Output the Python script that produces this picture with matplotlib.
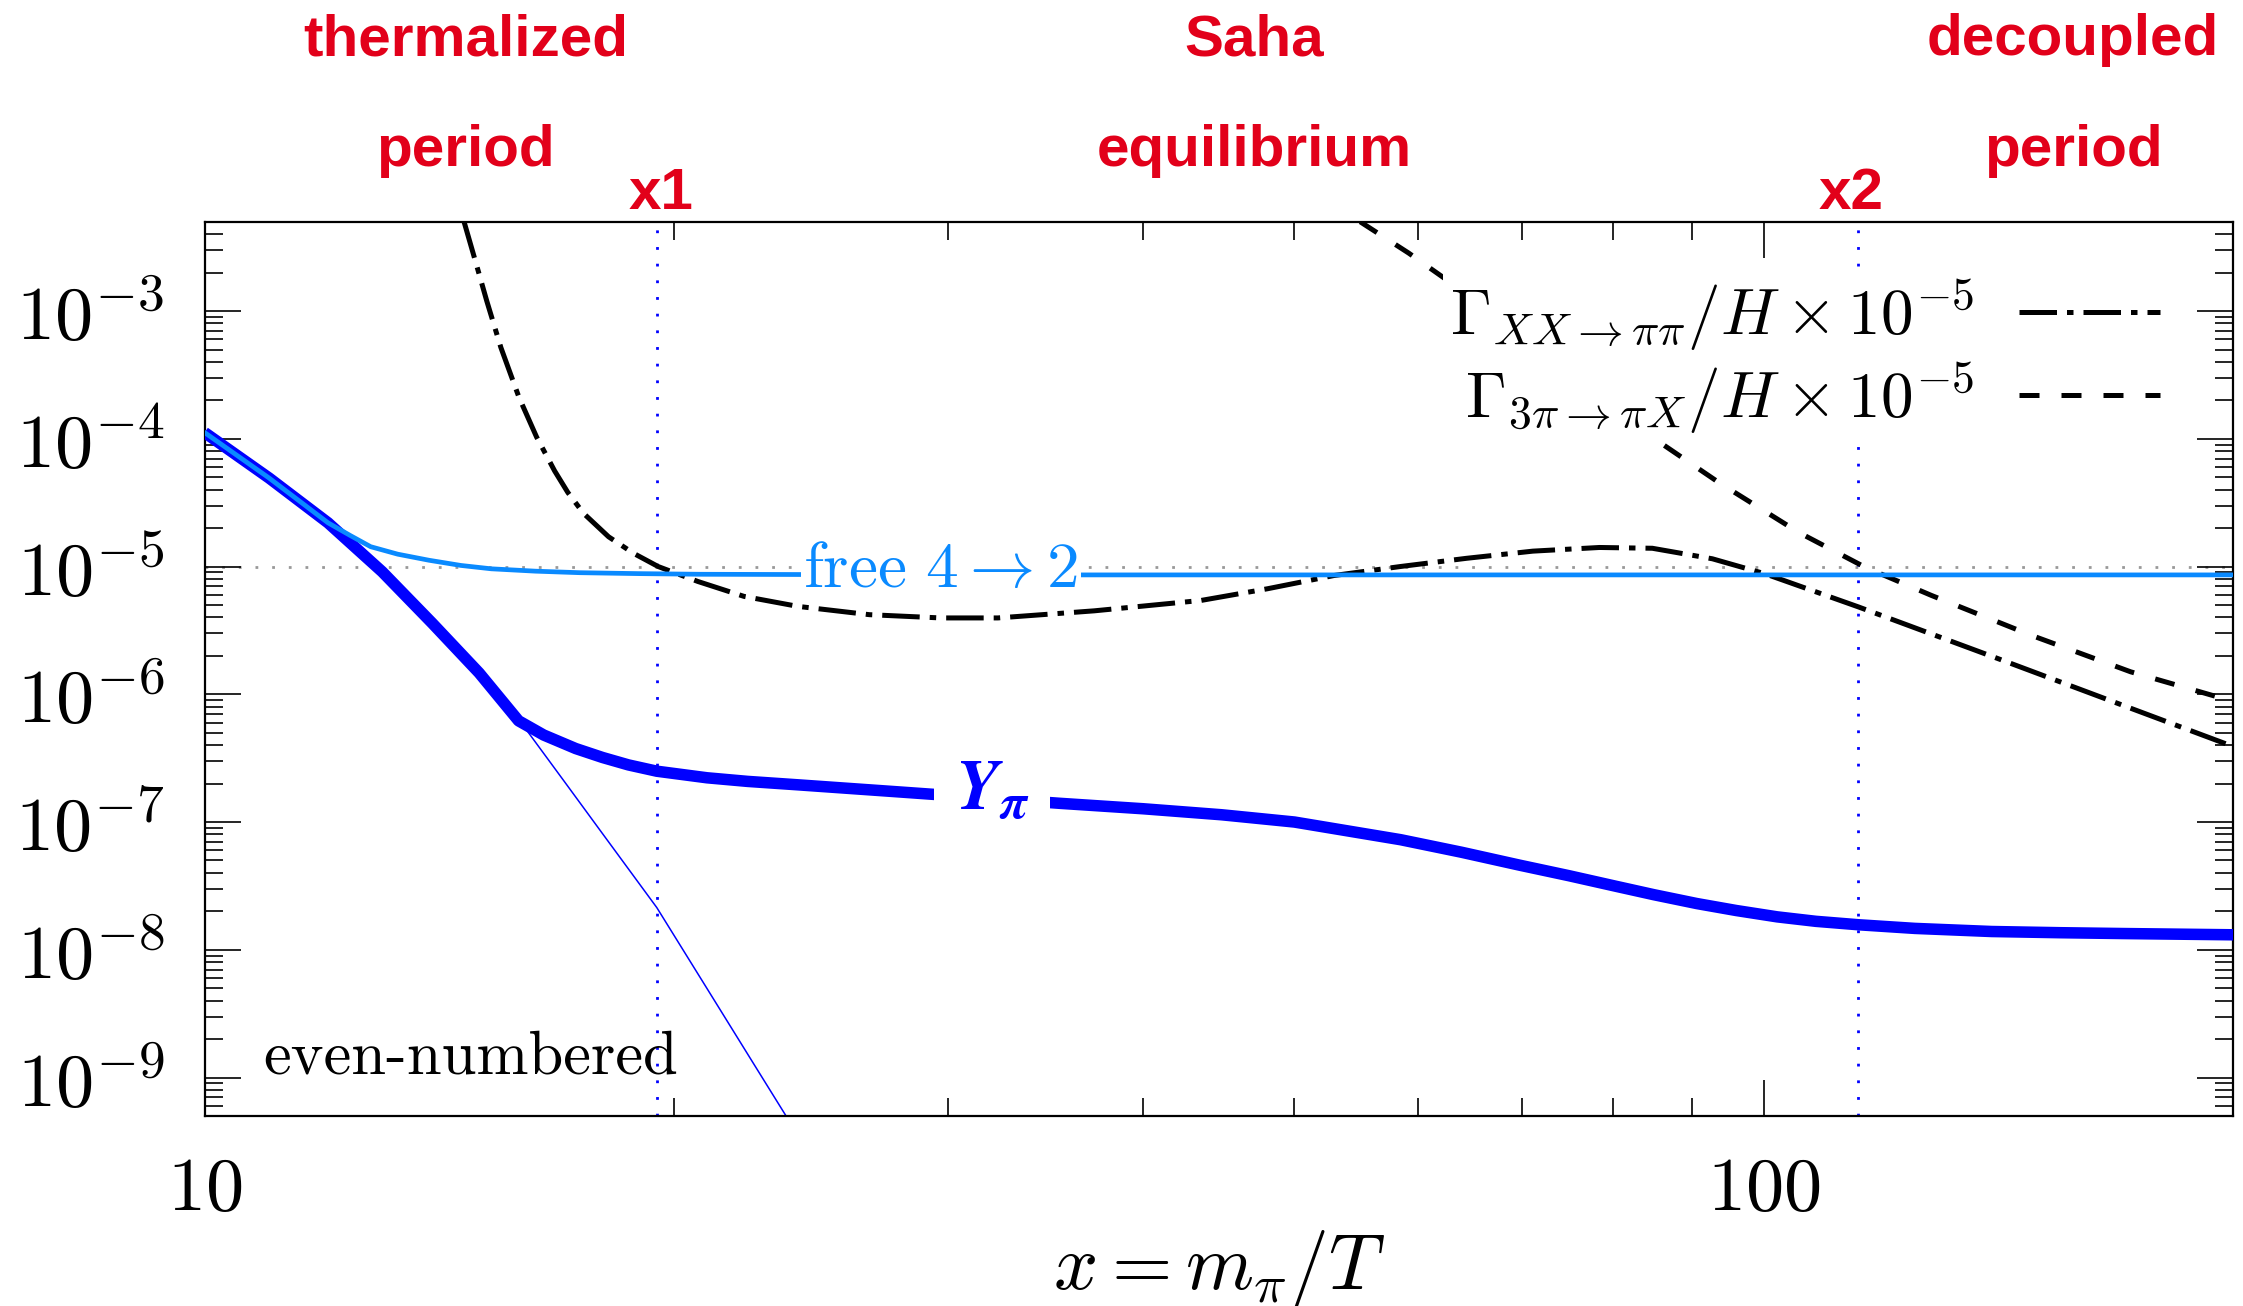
import numpy as np
import matplotlib.pyplot as plt
from matplotlib.ticker import FixedLocator, FuncFormatter, NullFormatter, LogLocator
import matplotlib.transforms as mtransforms

plt.rcParams['mathtext.fontset'] = 'cm'

# thin line: equilibrium abundance
x_eq = [10, 11, 12, 13, 14, 15, 16, 17, 18, 19.5, 21, 22.5, 24]
y_eq = [1.12e-4, 4.93e-5, 2.2e-5, 9.1e-6, 3.59e-6, 1.47e-6, 5.75e-7, 2.1e-7,
        8.1e-8, 2.14e-8, 4.98e-9, 1.28e-9, 3.6e-10]

# thick line: Y_pi
x_ypi = [10, 11, 12, 13, 14, 15, 15.9, 16.5, 17.3, 18, 18.7, 19.5, 21, 22.3,
         24.1, 27.9, 29.9, 35.4, 40, 44.9, 50, 58.5, 64, 69.7, 75, 80.4, 85,
         90.6, 96, 102, 108, 115, 125, 140, 155, 170, 200]
y_ypi = [1.12e-4, 4.93e-5, 2.2e-5, 9.1e-6, 3.59e-6, 1.47e-6, 6.2e-7, 4.8e-7,
         3.76e-7, 3.2e-7, 2.8e-7, 2.5e-7, 2.22e-7, 2.08e-7, 1.95e-7, 1.72e-7,
         1.62e-7, 1.4e-7, 1.27e-7, 1.14e-7, 1.0e-7, 7.27e-8, 5.8e-8, 4.6e-8,
         3.8e-8, 3.14e-8, 2.7e-8, 2.3e-8, 2.03e-8, 1.81e-8, 1.67e-8, 1.57e-8,
         1.47e-8, 1.39e-8, 1.36e-8, 1.34e-8, 1.31e-8]

# light blue: free 4 -> 2
x_free = [10, 11, 12, 12.4, 12.78, 13.3, 13.93, 14.6, 15.27, 16.3, 17.4, 19,
          20.8, 25, 30, 50, 100, 200]
y_free = [1.12e-4, 4.93e-5, 2.2e-5, 1.75e-5, 1.43e-5, 1.25e-5, 1.12e-5, 1.02e-5,
          9.6e-6, 9.2e-6, 8.95e-6, 8.8e-6, 8.7e-6, 8.65e-6, 8.6e-6, 8.6e-6,
          8.6e-6, 8.6e-6]

# Gamma_{XX -> pi pi}/H x 1e-5
x_gxx = [14.67, 14.94, 15.17, 15.49, 15.91, 16.33, 16.77, 17.1, 17.5, 18.16,
         18.84, 19.54, 20.72, 22.18, 24.01, 26.69, 29.66, 32.27, 37.2, 43.57,
         48.05, 53.02, 58.46, 64.47, 71.11, 78.45, 84.83, 92.69, 100.2, 115,
         141.2, 171.9, 200]
y_gxx = [5e-3, 2.31e-3, 1.2e-3, 5.18e-4, 2.11e-4, 1.03e-4, 5.6e-5, 3.8e-5,
         2.61e-5, 1.71e-5, 1.27e-5, 1.0e-5, 7.64e-6, 5.84e-6, 4.88e-6, 4.2e-6,
         3.96e-6, 3.96e-6, 4.5e-6, 5.43e-6, 6.7e-6, 8.51e-6, 1.0e-5, 1.16e-5,
         1.32e-5, 1.41e-5, 1.39e-5, 1.15e-5, 8.77e-6, 4.83e-6, 1.91e-6,
         7.78e-7, 3.9e-7]

# Gamma_{3pi -> pi X}/H x 1e-5
x_g3 = [55.1, 59.2, 72.4, 84.8, 93.6, 105.3, 116.1, 128.1, 148.4, 171.9, 200]
y_g3 = [5e-3, 2.84e-3, 5.03e-4, 1.03e-4, 4.54e-5, 1.85e-5, 9.9e-6, 5.94e-6,
        2.9e-6, 1.5e-6, 8.8e-7]

x1, x2 = 19.5, 115
red = '#E2001A'
lightblue = '#0A8AFF'

fig = plt.figure(figsize=(22.43, 13.06), dpi=100)
ax = fig.add_axes([0.0912, 0.1455, 0.9044, 0.6847])
ax.set_xscale('log')
ax.set_yscale('log')
ax.set_xlim(10, 200)
ax.set_ylim(5e-10, 5e-3)

ax.axhline(1e-5, color='#999999', lw=2, dashes=(1, 5), zorder=1)
ax.axvline(x1, color='#0000FF', lw=2, dashes=(1, 5), zorder=1)
ax.axvline(x2, color='#0000FF', lw=2, dashes=(1, 5), zorder=1)

ax.plot(x_eq, y_eq, color='#0000FF', lw=1.1, zorder=2)
ax.plot(x_ypi, y_ypi, color='#0000FF', lw=8.3, solid_capstyle='butt',
        solid_joinstyle='round', zorder=3)
ax.plot(x_free, y_free, color=lightblue, lw=3.4, solid_joinstyle='round', zorder=4)
ax.plot(x_gxx, y_gxx, color='black', lw=3.6, dashes=(7.5, 2, 1.3, 2), zorder=2,
        label=r'$\Gamma_{XX\rightarrow\pi\pi}/H\times10^{-5}$')
ax.plot(x_g3, y_g3, color='black', lw=3.6, dashes=(4, 4.4), zorder=2,
        label=r'$\Gamma_{3\pi\rightarrow\pi X}/H\times10^{-5}$')

leg = ax.legend(loc='upper right', bbox_to_anchor=(0.967, 0.946), fontsize=47,
                markerfirst=False, handlelength=2.15, handletextpad=0.7,
                labelspacing=0.1, borderpad=0.1, borderaxespad=0,
                frameon=True, fancybox=False)
leg.get_frame().set_facecolor('white')
leg.get_frame().set_edgecolor('none')
leg.get_frame().set_alpha(1)

ax.text(29.65, 9.6e-6, r'$\mathrm{free}\ 4\rightarrow2$', color=lightblue,
        fontsize=47, ha='center', va='center', zorder=5,
        bbox=dict(facecolor='white', edgecolor='none', pad=2))
ax.text(32, 1.78e-7, r'$\mathbfit{Y}_{\mathbfit{\pi}}$', color='#0000FF',
        fontsize=51, ha='center', va='center', zorder=5, math_fontfamily='stix',
        bbox=dict(facecolor='white', edgecolor='none', pad=15))
ax.text(10.9, 1.08e-9, 'even-numbered', family='cmr10', fontsize=45,
        ha='left', va='baseline')

ax.set_xlabel(r'$x = m_\pi/T$', fontsize=56)
ax.xaxis.set_label_coords(0.5, -0.125)

ax.xaxis.set_major_locator(FixedLocator([10, 100]))
ax.xaxis.set_major_formatter(FuncFormatter(lambda v, p: r'$%d$' % v))
ax.xaxis.set_minor_locator(FixedLocator([20, 30, 40, 50, 60, 70, 80, 90, 200]))
ax.xaxis.set_minor_formatter(NullFormatter())
ax.yaxis.set_major_locator(LogLocator(base=10, numticks=20))
ax.yaxis.set_major_formatter(FuncFormatter(lambda v, p: r'$10^{%d}$' % round(np.log10(v))))
ax.yaxis.set_minor_locator(LogLocator(base=10, subs=np.arange(2, 10), numticks=20))
ax.yaxis.set_minor_formatter(NullFormatter())

ax.tick_params(which='both', direction='in', top=True, right=True, width=1.2)
ax.tick_params(which='major', length=26, labelsize=55)
ax.tick_params(which='minor', length=13)
ax.tick_params(axis='x', which='major', pad=26)
ax.tick_params(axis='y', which='major', pad=29)
for sp in ax.spines.values():
    sp.set_linewidth(1.6)

# region labels above the plot
trans = mtransforms.blended_transform_factory(ax.transData, fig.transFigure)
for xpos, lines in [(14.7, ['thermalized', 'period']),
                    (47.1, ['Saha', 'equilibrium']),
                    (157.9, ['decoupled', 'period'])]:
    ax.text(xpos, 0.9693, lines[0], transform=trans, color=red, fontsize=42,
            family='Liberation Sans', weight='bold', ha='center', va='center')
    ax.text(xpos, 0.8847, lines[1], transform=trans, color=red, fontsize=42,
            family='Liberation Sans', weight='bold', ha='center', va='center')
ax.text(19.63, 0.8512, 'x1', transform=trans, color=red, fontsize=42,
        family='Liberation Sans', weight='bold', ha='center', va='center')
ax.text(113.7, 0.8512, 'x2', transform=trans, color=red, fontsize=42,
        family='Liberation Sans', weight='bold', ha='center', va='center')

fig.savefig('out.png', dpi=100)
